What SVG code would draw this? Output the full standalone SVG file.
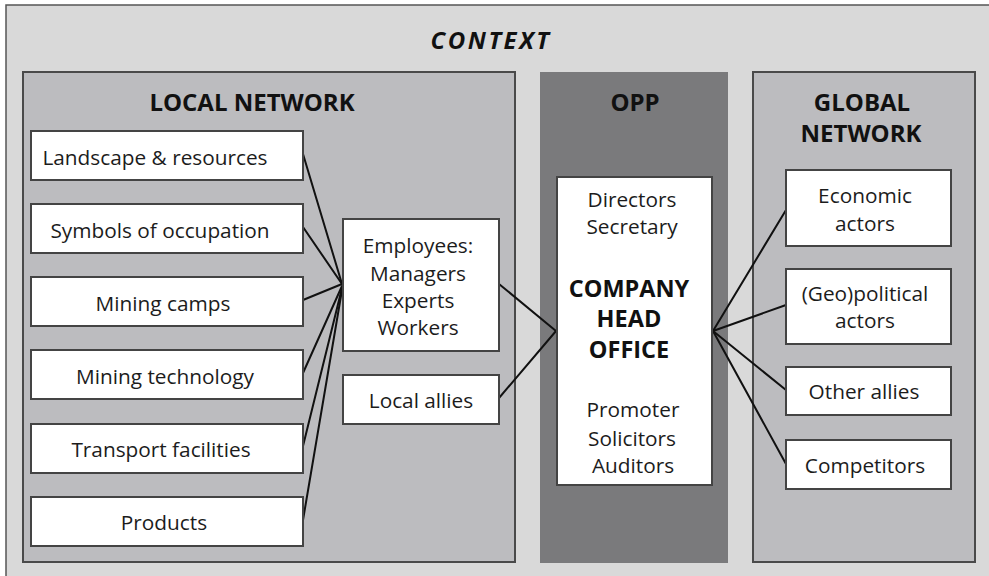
<svg xmlns="http://www.w3.org/2000/svg" width="989" height="576" viewBox="0 0 989 576">
  <style>
    .panel { fill: #bcbcbf; stroke: #4a4a4a; stroke-width: 2; }
    .opp { fill: #7a7a7c; }
    .box { fill: #ffffff; stroke: #444444; stroke-width: 2; }
    .t { font-family: "Open Sans", "Liberation Sans", sans-serif; font-size: 20.8px; fill: #1c1c1c; text-anchor: middle; }
    .h { font-family: "Open Sans", "Liberation Sans", sans-serif; font-size: 24px; font-weight: bold; fill: #111111; text-anchor: middle; }
    .big { font-size: 23.5px; }
    .link { stroke: #111111; stroke-width: 2; fill: none; stroke-linecap: round; }
  </style>

  <!-- context frame -->
  <g id="context">
    <rect x="6" y="5" width="1000" height="600" fill="#d9d9d9" stroke="#555555" stroke-width="1.5"/>
    <text x="491" y="49" class="h" font-style="italic" font-size="26" letter-spacing="2.5">CONTEXT</text>
  </g>

  <!-- panels -->
  <g id="local-network">
    <rect x="23" y="72" width="492" height="490" class="panel"/>
    <text x="252" y="111" class="h" font-size="23.5">LOCAL NETWORK</text>
  </g>
  <g id="opp">
    <rect x="540" y="72" width="188" height="491" class="opp"/>
    <text x="635" y="111" class="h">OPP</text>
  </g>
  <g id="global-network">
    <rect x="753" y="72" width="222" height="490" class="panel"/>
    <text x="862" y="111" class="h">GLOBAL</text>
    <text x="861" y="142" class="h">NETWORK</text>
  </g>

  <!-- connectors -->
  <g id="connectors">
    <line class="link" x1="303" y1="154" x2="342" y2="284"/>
    <line class="link" x1="303" y1="227" x2="342" y2="284"/>
    <line class="link" x1="303" y1="300" x2="342" y2="284"/>
    <line class="link" x1="303" y1="373" x2="342" y2="286"/>
    <line class="link" x1="303" y1="446" x2="342" y2="288"/>
    <line class="link" x1="303" y1="520" x2="342" y2="290"/>
    <line class="link" x1="499" y1="284" x2="556" y2="331"/>
    <line class="link" x1="499" y1="398" x2="556" y2="331"/>
    <line class="link" x1="713" y1="331" x2="786" y2="210"/>
    <line class="link" x1="713" y1="331" x2="786" y2="305"/>
    <line class="link" x1="713" y1="331" x2="786" y2="390"/>
    <line class="link" x1="713" y1="331" x2="786" y2="464"/>
  </g>

  <!-- local network nodes -->
  <g id="landscape">
    <rect x="31" y="131" width="272" height="49" class="box"/>
    <text x="155" y="165" class="t">Landscape &amp; resources</text>
  </g>
  <g id="symbols">
    <rect x="31" y="204" width="272" height="49" class="box"/>
    <text x="160" y="238" class="t">Symbols of occupation</text>
  </g>
  <g id="mining-camps">
    <rect x="31" y="277" width="272" height="49" class="box"/>
    <text x="163" y="311" class="t">Mining camps</text>
  </g>
  <g id="mining-technology">
    <rect x="31" y="350" width="272" height="49" class="box"/>
    <text x="165" y="384" class="t">Mining technology</text>
  </g>
  <g id="transport">
    <rect x="31" y="424" width="272" height="49" class="box"/>
    <text x="161" y="457" class="t">Transport facilities</text>
  </g>
  <g id="products">
    <rect x="31" y="497" width="272" height="49" class="box"/>
    <text x="164" y="530" class="t">Products</text>
  </g>
  <g id="employees">
    <rect x="343" y="219" width="156" height="132" class="box"/>
    <text x="418" y="253" class="t">Employees:</text>
    <text x="418" y="281" class="t">Managers</text>
    <text x="418" y="308" class="t">Experts</text>
    <text x="418" y="335" class="t">Workers</text>
  </g>
  <g id="local-allies">
    <rect x="343" y="375" width="156" height="49" class="box"/>
    <text x="421" y="408" class="t">Local allies</text>
  </g>

  <!-- head office -->
  <g id="head-office">
    <rect x="557" y="177" width="155" height="308" class="box"/>
    <text x="632" y="207" class="t">Directors</text>
    <text x="632" y="234" class="t">Secretary</text>
    <text x="629" y="297" class="h big">COMPANY</text>
    <text x="629" y="327" class="h big">HEAD</text>
    <text x="629" y="358" class="h big">OFFICE</text>
    <text x="633" y="417" class="t">Promoter</text>
    <text x="632" y="446" class="t">Solicitors</text>
    <text x="633" y="473" class="t">Auditors</text>
  </g>

  <!-- global network nodes -->
  <g id="economic">
    <rect x="786" y="170" width="165" height="76" class="box"/>
    <text x="865" y="203" class="t">Economic</text>
    <text x="865" y="231" class="t">actors</text>
  </g>
  <g id="geopolitical">
    <rect x="786" y="269" width="165" height="75" class="box"/>
    <text x="865" y="301" class="t">(Geo)political</text>
    <text x="865" y="328" class="t">actors</text>
  </g>
  <g id="other-allies">
    <rect x="786" y="367" width="165" height="48" class="box"/>
    <text x="864" y="399" class="t">Other allies</text>
  </g>
  <g id="competitors">
    <rect x="786" y="440" width="165" height="49" class="box"/>
    <text x="865" y="473" class="t">Competitors</text>
  </g>
</svg>
